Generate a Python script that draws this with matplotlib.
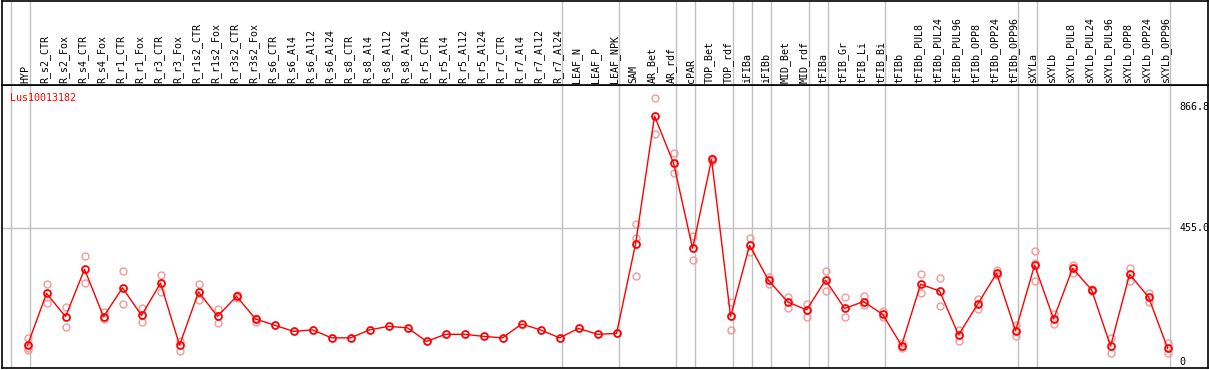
import matplotlib
matplotlib.use('Agg')
import matplotlib.pyplot as plt

# Sample names along the top
samples = ['HYP', 'R_s2_CTR', 'R_s2_Fox', 'R_s4_CTR', 'R_s4_Fox', 'R_r1_CTR', 'R_r1_Fox',
           'R_r3_CTR', 'R_r3_Fox', 'R_r1s2_CTR', 'R_r1s2_Fox', 'R_r3s2_CTR', 'R_r3s2_Fox',
           'R_s6_CTR', 'R_s6_Al4', 'R_s6_Al12', 'R_s6_Al24', 'R_s8_CTR', 'R_s8_Al4',
           'R_s8_Al12', 'R_s8_Al24', 'R_r5_CTR', 'R_r5_Al4', 'R_r5_Al12', 'R_r5_Al24',
           'R_r7_CTR', 'R_r7_Al4', 'R_r7_Al12', 'R_r7_Al24', 'LEAF_N', 'LEAF_P', 'LEAF_NPK',
           'SAM', 'AR_Bet', 'AR_rdf', 'cPAR', 'TOP_Bet', 'TOP_rdf', 'iFIBa', 'iFIBb',
           'MID_Bet', 'MID_rdf', 'tFIBa', 'tFIB_Gr', 'tFIB_Li', 'tFIB_Bi', 'tFIBb',
           'tFIBb_PUL8', 'tFIBb_PUL24', 'tFIBb_PUL96', 'tFIBb_OPP8', 'tFIBb_OPP24',
           'tFIBb_OPP96', 'sXYLa', 'sXYLb', 'sXYLb_PUL8', 'sXYLb_PUL24', 'sXYLb_PUL96',
           'sXYLb_OPP8', 'sXYLb_OPP24', 'sXYLb_OPP96']

# Mean expression per sample
means = [57, 233, 154, 315, 154, 252, 158, 268, 57, 238, 155, 223, 146,
         125, 104, 109, 82, 82, 109, 121, 116, 70, 94, 94, 87,
         82, 129, 109, 82, 114, 94, 97,
         401, 835, 675, 386, 688, 155, 396, 277,
         204, 177, 278, 182, 205, 162, 56,
         264, 241, 92, 196, 301, 106,
         329, 146, 318, 245, 54, 298, 220, 47]

# Replicate values (only those visible apart from the mean)
reps = [[82, 46, 41], [264, 199], [186, 120], [360, 269], [171, 145], [309, 197],
        [182, 135], [295, 237], [72, 38], [264, 209], [180, 131], [228, 219], [137, 150],
        [], [], [], [], [], [], [], [], [], [], [], [],
        [], [], [], [], [], [], [],
        [469, 420, 292], [895, 773], [708, 641], [429, 345], [692, 684], [205, 109],
        [420, 372], [290, 266],
        [222, 182], [197, 154], [308, 241], [220, 154], [224, 194], [174, 152],
        [63, 47],
        [298, 233], [286, 191], [109, 72], [213, 179], [312, 295], [126, 89],
        [378, 335, 276], [163, 129], [329, 303], [247, 242], [83, 30], [320, 275],
        [235, 203], [64, 30]]

# Indices after which a group separator is drawn
groups = [-1, 0, 28, 31, 34, 35, 37, 38, 39, 41, 42, 45, 52, 53, 60]

gene = 'Lus10013182'
ymax_label = 866.8
ymid = 455.0

W, H = 1209, 370
fig = plt.figure(figsize=(W / 100, H / 100), dpi=100)
mono = 'DejaVu Sans Mono'
fs = 7.2

left = 1.5 / W
width = 1206 / W
top_h = 85 / H
ax = fig.add_axes([left, 2 / H, width, (368 - 85) / H])
hd = fig.add_axes([left, 1 - top_h, width, top_h - 0.5 / H], sharex=ax)

x = list(range(len(samples)))
ax.set_xlim(-1.37, 62.1)
ax.set_ylim(-20.4, 940.6)

# separators and the mid gridline
for g in groups:
    ax.axvline(g + 0.14, color='#c0c0c0', lw=1, zorder=0)
    hd.axvline(g + 0.14, color='#c0c0c0', lw=1, zorder=0)
ax.plot([-1.37, groups[-1] + 0.14], [ymid, ymid], color='#c0c0c0', lw=1, zorder=0)

# replicates
for i, r in enumerate(reps):
    if r:
        ax.plot([i] * len(r), r, 'o', ms=5, mfc='none', mec='#f09a9a', mew=1.0, zorder=2)

# mean line
ax.plot(x, means, '-', color='red', lw=1, zorder=3)
ax.plot(x, means, 'o', ms=5, mfc='none', mec='red', mew=1.3, zorder=4)

ax.text(-0.9, 895, gene, color='red', fontsize=fs, family=mono, va='center', ha='left')
for v, s in [(ymax_label, '866.8'), (ymid, '455.0'), (0, '0')]:
    ax.text(60.63, v, s, fontsize=fs, family=mono, va='center', ha='left',
            color='black', zorder=5, clip_on=False)

# header labels
hd.set_ylim(0, 85)
for i, s in enumerate(samples):
    hd.text(i - 0.105, 2, s, rotation=90, ha='center', va='bottom',
            fontsize=fs, family=mono)

for a in (ax, hd):
    a.set_xticks([])
    a.set_yticks([])
    for sp in a.spines.values():
        sp.set_color('black')
        sp.set_linewidth(1.2)

fig.savefig('out.png', dpi=100)
